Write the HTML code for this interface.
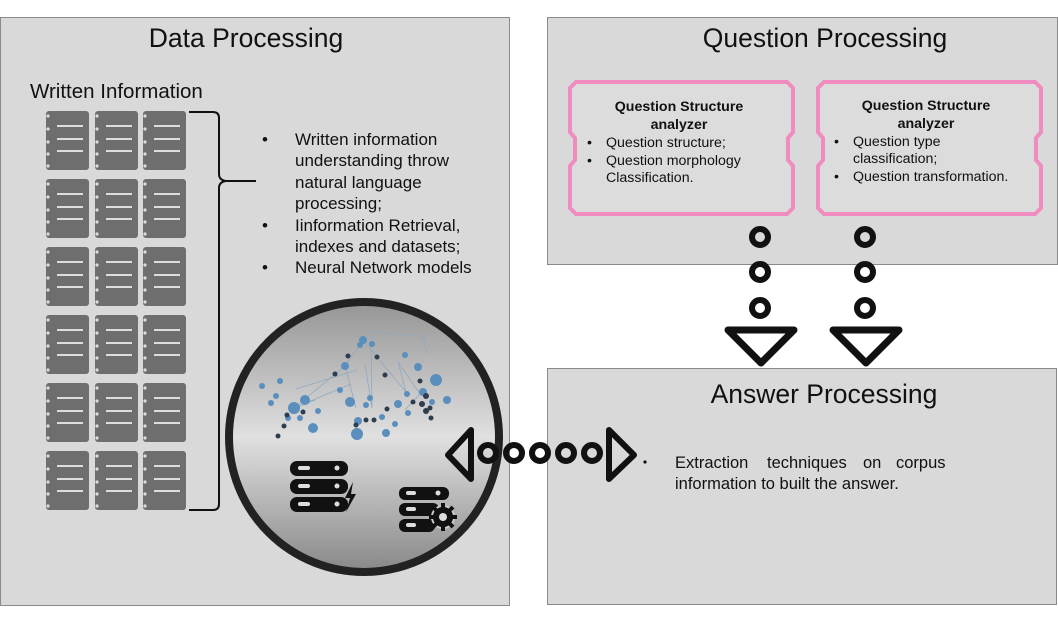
<!DOCTYPE html>
<html><head><meta charset="utf-8"><style>
html,body{margin:0;padding:0;background:#fff;width:1058px;height:623px;overflow:hidden}
svg{display:block;font-family:"Liberation Sans",Arial,sans-serif}
</style></head><body>
<svg width="1058" height="623" viewBox="0 0 1058 623" xmlns="http://www.w3.org/2000/svg">
<defs>
<g id="doc">
<rect x="0" y="0" width="43" height="59" rx="3" fill="#6e6e6e"/>
<g fill="#ddd"><circle cx="2" cy="5" r="1.6"/><circle cx="2" cy="18" r="1.6"/><circle cx="2" cy="31" r="1.6"/><circle cx="2" cy="43" r="1.6"/><circle cx="2" cy="55" r="1.6"/></g>
<g stroke="#ddd" stroke-width="2"><line x1="11" y1="15" x2="37" y2="15"/><line x1="11" y1="28" x2="37" y2="28"/><line x1="11" y1="40" x2="37" y2="40"/></g>
</g>
<linearGradient id="cl" x1="0" y1="0" x2="0" y2="1">
<stop offset="0" stop-color="#959595"/><stop offset="0.5" stop-color="#e0e0e0"/><stop offset="1" stop-color="#888"/></linearGradient>
<g id="ring"><circle r="8" fill="none" stroke="#111" stroke-width="6"/></g>
</defs>

<rect x="0.5" y="17.5" width="509" height="588" fill="#d9d9d9" stroke="#8a8a8a"/>
<rect x="547.5" y="17.5" width="510" height="247" fill="#d9d9d9" stroke="#8a8a8a"/>
<rect x="547.5" y="368.5" width="509" height="236" fill="#d9d9d9" stroke="#8a8a8a"/>

<text x="246" y="47" font-size="26.5" text-anchor="middle" fill="#111">Data Processing</text>
<text x="825" y="47" font-size="26.5" text-anchor="middle" fill="#111">Question Processing</text>
<text x="824" y="403" font-size="26.5" text-anchor="middle" fill="#111">Answer Processing</text>
<text x="30" y="98" font-size="20.5" fill="#111">Written Information</text>

<g>
<use href="#doc" x="46" y="111"/><use href="#doc" x="95" y="111"/><use href="#doc" x="143" y="111"/>
<use href="#doc" x="46" y="179"/><use href="#doc" x="95" y="179"/><use href="#doc" x="143" y="179"/>
<use href="#doc" x="46" y="247"/><use href="#doc" x="95" y="247"/><use href="#doc" x="143" y="247"/>
<use href="#doc" x="46" y="315"/><use href="#doc" x="95" y="315"/><use href="#doc" x="143" y="315"/>
<use href="#doc" x="46" y="383"/><use href="#doc" x="95" y="383"/><use href="#doc" x="143" y="383"/>
<use href="#doc" x="46" y="451"/><use href="#doc" x="95" y="451"/><use href="#doc" x="143" y="451"/>
</g>
<path d="M189 112 L213 112 Q219 112 219 118 L219 174 Q219 180 226 181 L256 181 M226 181 Q219 182 219 188 L219 504 Q219 510 213 510 L189 510" fill="none" stroke="#111" stroke-width="2"/>

<g font-size="17" fill="#111">
<text x="262" y="145">•</text><text x="295" y="145">Written information</text>
<text x="295" y="166">understanding throw</text>
<text x="295" y="188">natural language</text>
<text x="295" y="209">processing;</text>
<text x="262" y="231">•</text><text x="295" y="231">Iinformation Retrieval,</text>
<text x="295" y="252">indexes and datasets;</text>
<text x="262" y="273">•</text><text x="295" y="273">Neural Network models</text>
</g>

<circle cx="364" cy="437" r="135" fill="url(#cl)" stroke="#222" stroke-width="8"/>
<g stroke="#8fa9c0" stroke-width="0.8" fill="none">
<path d="M294 408 L345 366 L363 340 L406 392 L398 362 L420 394 L405 410 M294 408 L351 384 M345 366 L356 408 M365 365 L372 408 L371 332 M294 408 L315 400 M371 332 L423 336 M423 336 L427 354 M296 389 L357 370"/>
</g>
<g fill="#5a8fbd">
<circle cx="280" cy="381" r="3"/><circle cx="294" cy="408" r="6"/><circle cx="276" cy="396" r="3"/><circle cx="271" cy="403" r="3"/>
<circle cx="300" cy="418" r="3"/><circle cx="313" cy="428" r="5"/><circle cx="318" cy="411" r="3"/><circle cx="262" cy="386" r="3"/><circle cx="305" cy="400" r="5"/>
<circle cx="345" cy="366" r="4"/><circle cx="363" cy="340" r="4"/><circle cx="360" cy="345" r="3"/><circle cx="372" cy="344" r="3"/>
<circle cx="350" cy="402" r="5"/><circle cx="357" cy="434" r="6"/><circle cx="370" cy="398" r="3"/><circle cx="382" cy="417" r="3"/><circle cx="386" cy="433" r="4"/>
<circle cx="398" cy="404" r="4"/><circle cx="408" cy="413" r="3"/><circle cx="405" cy="355" r="3"/><circle cx="418" cy="367" r="4"/>
<circle cx="436" cy="380" r="6"/><circle cx="423" cy="392" r="4"/><circle cx="447" cy="400" r="4"/><circle cx="432" cy="402" r="3"/>
<circle cx="395" cy="424" r="3"/><circle cx="358" cy="421" r="4"/><circle cx="288" cy="418" r="3"/><circle cx="366" cy="405" r="3"/>
<circle cx="340" cy="390" r="3"/><circle cx="407" cy="394" r="3"/>
</g>
<g fill="#2e3d4d">
<circle cx="335" cy="374" r="2.5"/><circle cx="348" cy="356" r="2.5"/><circle cx="377" cy="357" r="2.5"/><circle cx="385" cy="375" r="2.5"/>
<circle cx="287" cy="415" r="2.5"/><circle cx="284" cy="426" r="2.5"/><circle cx="303" cy="412" r="2.5"/><circle cx="278" cy="436" r="2.5"/>
<circle cx="356" cy="425" r="2.5"/><circle cx="366" cy="420" r="2.5"/><circle cx="374" cy="420" r="2.5"/><circle cx="387" cy="409" r="2.5"/>
<circle cx="426" cy="396" r="3"/><circle cx="422" cy="404" r="3"/><circle cx="430" cy="408" r="2.5"/><circle cx="413" cy="402" r="2.5"/>
<circle cx="426" cy="411" r="3"/><circle cx="431" cy="418" r="2.5"/><circle cx="420" cy="381" r="2.5"/>
</g>
<g fill="#111">
<rect x="290" y="461" width="58" height="15" rx="7"/><rect x="290" y="479" width="58" height="15" rx="7"/><rect x="290" y="497" width="58" height="15" rx="7"/>
<path d="M353 482 L345 498 L350 498 L346 512 L356 494 L351 494 Z"/>
<rect x="399" y="487" width="50" height="13" rx="6"/><rect x="399" y="503" width="40" height="13" rx="6"/><rect x="399" y="519" width="36" height="13" rx="6"/>
<circle cx="443" cy="517" r="11" stroke="#ccc" stroke-width="2"/>
<g stroke="#111" stroke-width="4"><line x1="443" y1="503" x2="443" y2="531"/><line x1="429" y1="517" x2="457" y2="517"/><line x1="433" y1="507" x2="453" y2="527"/><line x1="453" y1="507" x2="433" y2="527"/></g>
<circle cx="443" cy="517" r="10"/>
</g>
<g fill="#ddd">
<rect x="298" y="466" width="12" height="4" rx="2"/><circle cx="337" cy="468" r="2.5"/>
<rect x="298" y="484" width="12" height="4" rx="2"/><circle cx="337" cy="486" r="2.5"/>
<rect x="298" y="502" width="12" height="4" rx="2"/><circle cx="337" cy="504" r="2.5"/>
<rect x="406" y="491" width="10" height="4" rx="2"/><circle cx="438" cy="493" r="2.5"/>
<rect x="406" y="507" width="10" height="4" rx="2"/>
<rect x="406" y="523" width="10" height="4" rx="2"/>
<circle cx="443" cy="517" r="4"/>
</g>

<path d="M471 430 L448 455 L471 479 Z" fill="none" stroke="#111" stroke-width="6" stroke-linejoin="round"/>
<use href="#ring" x="488" y="453"/><use href="#ring" x="514" y="453"/><use href="#ring" x="540" y="453"/><use href="#ring" x="566" y="453"/><use href="#ring" x="592" y="453"/>
<path d="M609 430 L634 455 L609 479 Z" fill="none" stroke="#111" stroke-width="6" stroke-linejoin="round"/>
<circle cx="645" cy="462" r="1.6" fill="#111"/>

<g font-size="16.5" fill="#111">
<text x="675" y="468">Extraction</text><text x="767" y="468">techniques</text><text x="863" y="468">on</text><text x="896" y="468">corpus</text>
<text x="675" y="489">information to built the answer.</text>
</g>

<g fill="#dcdcdc" stroke="#f08cc0" stroke-width="4">
<path d="M576 82 L787 82 L793 88 L793 132 L788 138 L788 160 L793 166 L793 208 L787 214 L576 214 L570 208 L570 166 L575 160 L575 138 L570 132 L570 88 Z"/>
<path d="M824 82 L1035 82 L1041 88 L1041 132 L1036 138 L1036 160 L1041 166 L1041 208 L1035 214 L824 214 L818 208 L818 166 L823 160 L823 138 L818 132 L818 88 Z"/>
</g>
<g fill="#111" font-size="14.2">
<text x="679" y="111" text-anchor="middle" font-weight="bold">Question Structure</text>
<text x="679" y="129" text-anchor="middle" font-weight="bold">analyzer</text>
<text x="587" y="147">•</text><text x="606" y="147">Question structure;</text>
<text x="587" y="165">•</text><text x="606" y="165">Question morphology</text>
<text x="606" y="182">Classification.</text>
<text x="926" y="110" text-anchor="middle" font-weight="bold">Question Structure</text>
<text x="926" y="128" text-anchor="middle" font-weight="bold">analyzer</text>
<text x="834" y="146">•</text><text x="853" y="146">Question type</text>
<text x="853" y="163">classification;</text>
<text x="834" y="181">•</text><text x="853" y="181">Question transformation.</text>
</g>

<use href="#ring" x="760" y="237"/><use href="#ring" x="760" y="272"/><use href="#ring" x="760" y="308"/>
<use href="#ring" x="865" y="237"/><use href="#ring" x="865" y="272"/><use href="#ring" x="865" y="308"/>
<path d="M728 330 L794 330 L761 363 Z" fill="none" stroke="#111" stroke-width="7" stroke-linejoin="round"/>
<path d="M833 330 L899 330 L866 363 Z" fill="none" stroke="#111" stroke-width="7" stroke-linejoin="round"/>
</svg>
</body></html>
